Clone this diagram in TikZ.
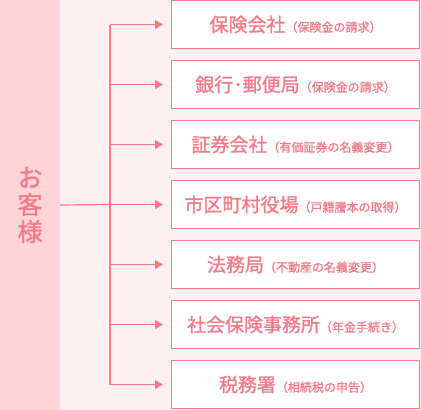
\documentclass[tikz,border=0pt]{standalone}
\usepackage{fontspec}
\setmainfont{Noto Sans CJK JP}[BoldFont={Noto Sans CJK JP},BoldFeatures={FakeBold=1.2}]
\usepackage{tikz}
\usetikzlibrary{positioning, arrows.meta}
\definecolor{linepink}{HTML}{F47B88}
\definecolor{bandpink}{HTML}{FFD4D7}
\definecolor{stripepink}{HTML}{FFDEE1}
\definecolor{bgpink}{HTML}{FDF0F2}
\newcommand{\boxlabel}[2]{{\fontsize{19}{21}\selectfont #1}{\fontsize{12}{13}\selectfont （#2）}}
\tikzset{info box/.style={rectangle,draw=linepink,fill=white,line width=1.2pt,minimum width=247.8pt,minimum height=48pt,inner sep=0pt,text=linepink,font=\bfseries},
         band node/.style={rectangle,fill=bandpink,minimum width=60pt,minimum height=410pt,inner sep=0pt,text=linepink,align=center,font=\fontsize{25}{27}\selectfont\bfseries},
         link/.style={draw=linepink,line width=1.2pt},
         branch/.style={link,-{Triangle[length=8pt,width=9pt]},shorten >=8pt}}

\begin{document}
\begin{tikzpicture}[x=1pt,y=-1pt]
            \useasboundingbox (0,0) rectangle (421,410);
            \fill[bgpink] (60,0) rectangle (421,410);
            \node[band node, path picture={
                \foreach \s in {-420,-416,...,60}
                    \draw[stripepink,line width=0.6pt] (\s,410) -- (\s+410,0);
            }] (kyaku) at (30,205) {お\\客\\様};

            \node[info box] (hoken) at (295.5,24.5) {\boxlabel{保険会社}{保険金の請求}};
            \node[info box] (ginko) [below = 10.8pt of hoken] {\boxlabel{銀行･郵便局}{保険金の請求}};
            \node[info box] (shoken) [below = 10.8pt of ginko] {\boxlabel{証券会社}{有価証券の名義変更}};
            \node[info box] (shiku) [below = 10.8pt of shoken] {\boxlabel{市区町村役場}{戸籍謄本の取得}};
            \node[info box] (homu) [below = 10.8pt of shiku] {\boxlabel{法務局}{不動産の名義変更}};
            \node[info box] (shaho) [below = 10.8pt of homu] {\boxlabel{社会保険事務所}{年金手続き}};
            \node[info box] (zeimu) [below = 10.8pt of shaho] {\boxlabel{税務署}{相続税の申告}};

            \coordinate (fork) at (110,0);
            \path[link] (fork |- hoken.west) -- (fork |- zeimu.west);
            \path[link] (kyaku.east) -- (fork |- shiku.west);
            \foreach \b in {hoken,ginko,shoken,shiku,homu,shaho,zeimu}
                \path[branch] (fork |- \b.west) -- (\b.west);
        \end{tikzpicture}
\end{document}
